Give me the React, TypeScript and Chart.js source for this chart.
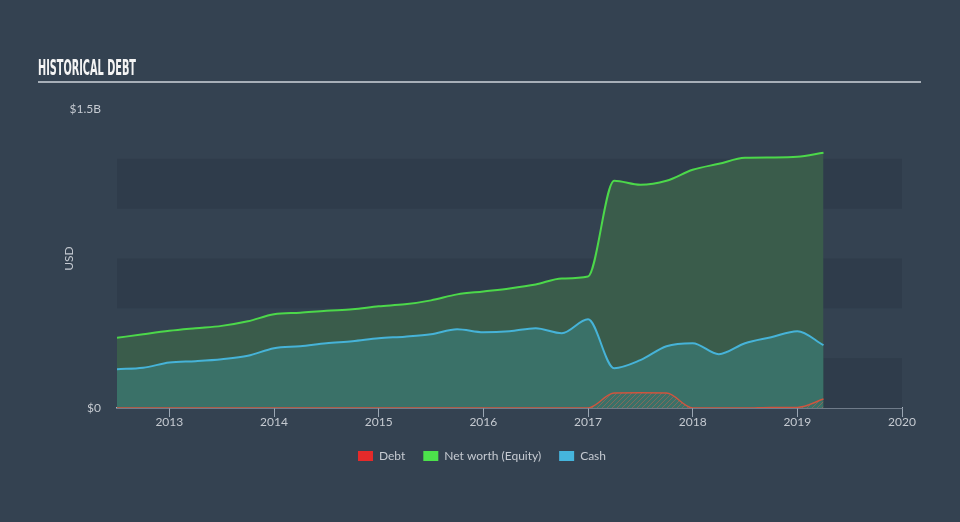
import React, { useEffect, useRef } from 'react';
import { Chart, registerables } from 'chart.js';

Chart.register(...registerables);

// Quarter-end dates as fractional years
const quarters = [
  2012.5, 2012.75, 2013.0, 2013.25, 2013.5, 2013.75, 2014.0, 2014.25, 2014.5, 2014.75,
  2015.0, 2015.25, 2015.5, 2015.75, 2016.0, 2016.25, 2016.5, 2016.75, 2017.0, 2017.25,
  2017.5, 2017.75, 2018.0, 2018.25, 2018.5, 2018.75, 2019.0, 2019.25,
];

// Values in USD billions
const debt = [
  0, 0, 0, 0, 0, 0, 0, 0, 0, 0,
  0, 0, 0, 0, 0, 0, 0, 0, 0, 0.075,
  0.076, 0.075, 0, 0, 0, 0.003, 0.003, 0.045,
];
const netWorth = [
  0.352, 0.37, 0.387, 0.4, 0.412, 0.435, 0.47, 0.478, 0.488, 0.495,
  0.51, 0.52, 0.54, 0.57, 0.585, 0.6, 0.62, 0.65, 0.66, 1.14,
  1.12, 1.14, 1.195, 1.225, 1.255, 1.257, 1.26, 1.28,
];
const cash = [
  0.195, 0.202, 0.228, 0.235, 0.245, 0.262, 0.3, 0.31, 0.325, 0.335,
  0.35, 0.358, 0.37, 0.395, 0.38, 0.385, 0.4, 0.375, 0.445, 0.2,
  0.24, 0.31, 0.325, 0.27, 0.325, 0.355, 0.385, 0.315,
];

const seriesNames = ['Debt', 'Net worth (Equity)', 'Cash'];
const legendColors = ['#e52a2a', '#4ce24b', '#45b5dd'];

const xTickValues = [2013, 2014, 2015, 2016, 2017, 2018, 2019, 2020];
const yBandValues = [0, 0.25, 0.5, 0.75, 1.0, 1.25, 1.5];
const yLabelValues = [0, 1.5];
const yLabelTexts = ['$0', '$1.5B'];

const BG = '#344251';
const BAND = '#2f3c4b';
const TEXT = '#c5cad1';
const FONT = 'Lato, "Open Sans", sans-serif';

const toPoints = (vals: number[]) => quarters.map((q, i) => ({ x: q, y: vals[i] }));

export default function App() {
  const ref = useRef<HTMLCanvasElement | null>(null);

  useEffect(() => {
    if (!ref.current) return;

    const pc = document.createElement('canvas');
    pc.width = 5;
    pc.height = 5;
    const pctx = pc.getContext('2d')!;
    pctx.strokeStyle = 'rgba(215,95,75,0.45)';
    pctx.lineWidth = 1;
    pctx.beginPath();
    pctx.moveTo(-1, 6);
    pctx.lineTo(6, -1);
    pctx.stroke();
    const hatch = ref.current.getContext('2d')!.createPattern(pc, 'repeat')!;

    const bandsPlugin = {
      id: 'bands',
      beforeDatasetsDraw(chart: any) {
        const { ctx, chartArea, scales } = chart;
        const y = scales.y;
        ctx.save();
        ctx.fillStyle = BAND;
        for (let i = 0; i < yBandValues.length - 1; i += 2) {
          const top = y.getPixelForValue(yBandValues[i + 1]);
          const bottom = y.getPixelForValue(yBandValues[i]);
          ctx.fillRect(chartArea.left, top, chartArea.right - chartArea.left, bottom - top);
        }
        ctx.restore();
      },
    };

    const titlePlugin = {
      id: 'pageTitle',
      afterDraw(chart: any) {
        const ctx = chart.ctx;
        ctx.save();
        ctx.font = 'bold 21px "Liberation Sans Narrow", "DejaVu Sans Condensed", sans-serif';
        ctx.fillStyle = '#f4f4f4';
        ctx.textBaseline = 'alphabetic';
        const text = 'HISTORICAL DEBT';
        const w = ctx.measureText(text).width;
        ctx.translate(38, 75);
        ctx.scale(98 / w, 1);
        ctx.fillText(text, 0, 0);
        ctx.restore();
        ctx.save();
        ctx.fillStyle = '#a7afb8';
        ctx.fillRect(38, 81, 883, 2);
        ctx.restore();
      },
    };

    const chart = new Chart(ref.current, {
      type: 'line',
      data: {
        datasets: [
          {
            label: seriesNames[0],
            data: toPoints(debt),
            borderColor: '#cf553f',
            borderWidth: 1.5,
            backgroundColor: hatch,
            fill: 'origin',
            pointRadius: 0,
            cubicInterpolationMode: 'monotone',
            order: 0,
          },
          {
            label: seriesNames[1],
            data: toPoints(netWorth),
            borderColor: '#4cd84a',
            borderWidth: 2,
            backgroundColor: '#3a5c4b',
            fill: 'origin',
            pointRadius: 0,
            cubicInterpolationMode: 'monotone',
            order: 2,
          },
          {
            label: seriesNames[2],
            data: toPoints(cash),
            borderColor: '#46b3d8',
            borderWidth: 2,
            backgroundColor: '#3a7168',
            fill: 'origin',
            pointRadius: 0,
            cubicInterpolationMode: 'monotone',
            order: 1,
          },
        ],
      },
      options: {
        animation: false,
        responsive: false,
        maintainAspectRatio: false,
        devicePixelRatio: 1,
        layout: { padding: { left: 62, right: 58, top: 109, bottom: 50 } },
        plugins: {
          tooltip: { enabled: false },
          legend: {
            position: 'bottom',
            labels: {
              boxWidth: 15,
              boxHeight: 10,
              padding: 18,
              color: TEXT,
              font: { size: 12, family: FONT },
              generateLabels: () =>
                seriesNames.map((name, i) => ({
                  text: name,
                  fillStyle: legendColors[i],
                  strokeStyle: legendColors[i],
                  lineWidth: 0,
                  hidden: false,
                  datasetIndex: i,
                  fontColor: TEXT,
                })),
            },
          },
        },
        scales: {
          x: {
            type: 'linear',
            min: 2012.5,
            max: 2020,
            afterBuildTicks: (s: any) => {
              s.ticks = xTickValues.map((v) => ({ value: v }));
            },
            afterFit: (s: any) => {
              s.height += 5;
            },
            ticks: {
              color: TEXT,
              font: { size: 12, family: FONT, lineHeight: 1.0 },
              padding: -1,
              maxRotation: 0,
              autoSkip: false,
              callback: (v: any) => String(v),
            },
            grid: {
              display: true,
              drawOnChartArea: false,
              drawTicks: true,
              tickLength: 9,
              color: '#9aa6b3',
              lineWidth: 1,
            },
            border: { display: true, color: '#a9b4c2', width: 1.5 },
          },
          y: {
            type: 'linear',
            min: 0,
            max: 1.5,
            afterBuildTicks: (s: any) => {
              s.ticks = yLabelValues.map((v) => ({ value: v }));
            },
            afterFit: (s: any) => {
              s.width = 55;
            },
            ticks: {
              color: TEXT,
              font: { size: 12, family: FONT },
              padding: 16,
              callback: (v: any) => {
                const idx = yLabelValues.indexOf(Number(v));
                return idx >= 0 ? yLabelTexts[idx] : '';
              },
            },
            grid: { display: false, drawTicks: false },
            border: { display: false },
            title: {
              display: true,
              text: 'USD',
              color: TEXT,
              font: { size: 12, family: FONT },
              padding: { top: 0, bottom: 0 },
            },
          },
        },
      },
      plugins: [bandsPlugin, titlePlugin],
    } as any);

    return () => chart.destroy();
  }, []);

  return (
    <div style={{ position: 'fixed', left: 0, top: 0, width: 960, height: 522, background: BG }}>
      <canvas ref={ref} width={960} height={522} style={{ display: 'block' }} />
    </div>
  );
}
